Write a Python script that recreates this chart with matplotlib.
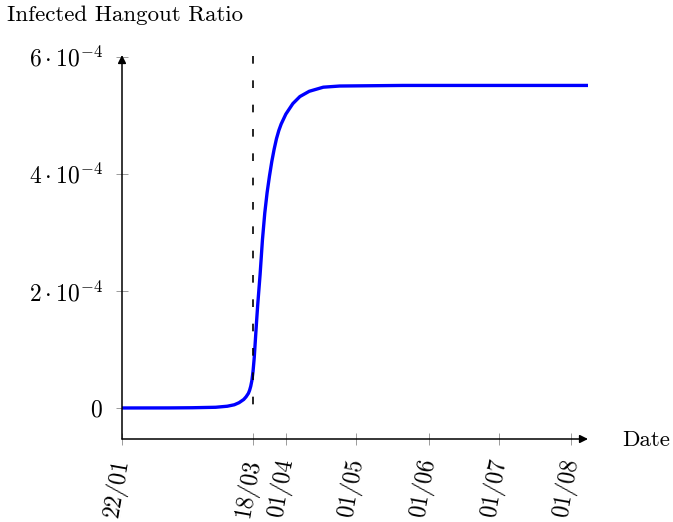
import matplotlib
matplotlib.use("Agg")
import matplotlib.pyplot as plt

# ---- data ----
# days since 22/01
days = [0, 20, 30, 40, 45, 48, 50, 52, 53, 54, 54.5, 55, 55.5, 56, 56.5, 57, 57.5,
        58, 59, 60, 61, 62, 63, 64, 65, 66, 67, 68, 70, 73, 76, 80, 86, 93, 120,
        160, 199]
ratio = [0.0, 0.001e-4, 0.004e-4, 0.012e-4, 0.03e-4, 0.055e-4, 0.09e-4, 0.145e-4,
         0.19e-4, 0.25e-4, 0.30e-4, 0.37e-4, 0.47e-4, 0.63e-4, 0.86e-4, 1.17e-4,
         1.48e-4, 1.77e-4, 2.28e-4, 2.87e-4, 3.33e-4, 3.68e-4, 3.96e-4, 4.21e-4,
         4.42e-4, 4.60e-4, 4.74e-4, 4.85e-4, 5.02e-4, 5.20e-4, 5.32e-4, 5.41e-4,
         5.48e-4, 5.50e-4, 5.51e-4, 5.51e-4, 5.51e-4]

tick_days = [0, 56, 70, 100, 131, 161, 192]
tick_labels = ["22/01", "18/03", "01/04", "01/05", "01/06", "01/07", "01/08"]
ytick_vals = [0, 2e-4, 4e-4, 6e-4]
ytick_labels = [r"$0$", r"$2\cdot10^{-4}$", r"$4\cdot10^{-4}$", r"$6\cdot10^{-4}$"]
lockdown_day = 56

plt.rcParams["font.family"] = "serif"
plt.rcParams["font.serif"] = ["cmr10"]
plt.rcParams["mathtext.fontset"] = "cm"
plt.rcParams["axes.formatter.use_mathtext"] = True

W, H = 673, 522
fig = plt.figure(figsize=(W / 100, H / 100), dpi=100)
ax = fig.add_axes([122 / W, (H - 439) / H, 466 / W, 384 / H])

ax.plot(days, ratio, color="#0000ff", lw=2.4, solid_capstyle="round",
        solid_joinstyle="round")
# dashed marker line, drawn top-down so the pattern starts at the top
ax.plot([lockdown_day, lockdown_day], [6.02e-4, -0.03e-4], color="black", lw=1.2,
        dashes=(4.6, 10))

ax.set_xlim(0, 199.1)
ax.set_ylim(-0.53e-4, 6.03e-4)

for s in ax.spines.values():
    s.set_visible(False)
# axis lines with arrow heads
ax.annotate("", xy=(1.0, 0), xytext=(0, 0), xycoords="axes fraction",
            arrowprops=dict(arrowstyle="-|>", lw=1.1, color="black",
                            mutation_scale=12, shrinkA=0, shrinkB=0))
ax.annotate("", xy=(0, 1.0), xytext=(0, 0), xycoords="axes fraction",
            arrowprops=dict(arrowstyle="-|>", lw=1.1, color="black",
                            mutation_scale=12, shrinkA=0, shrinkB=0))

ax.set_xticks(tick_days)
ax.set_xticklabels(tick_labels, rotation=80, ha="right", va="center",
                   rotation_mode="anchor", fontsize=17)
ax.set_yticks(ytick_vals)
ax.set_yticklabels(ytick_labels, fontsize=17)
ax.tick_params(direction="inout", length=9, width=0.6, color="0.55")
ax.tick_params(axis="x", pad=10)
ax.tick_params(axis="y", pad=9)

fig.text(7 / W, 1 - 15 / H, "Infected Hangout Ratio", fontsize=16.5,
         ha="left", va="center")
fig.text(622 / W, 1 - 440 / H, "Date", fontsize=16.5, ha="left", va="center")

fig.savefig("out.png", dpi=100)
